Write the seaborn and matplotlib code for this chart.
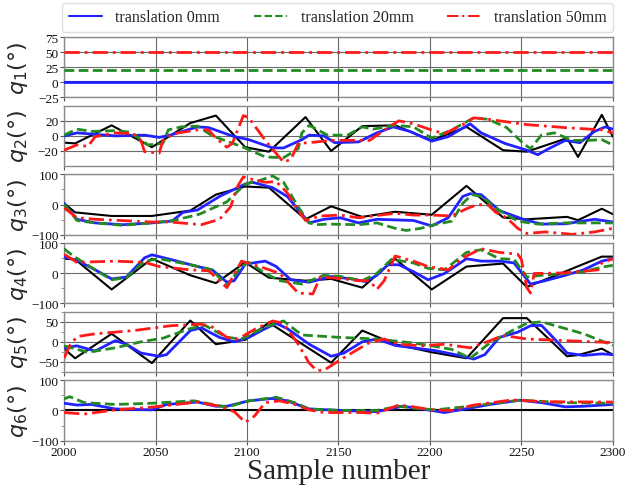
import matplotlib
matplotlib.use("Agg")
import matplotlib.pyplot as plt
import seaborn as sns
from matplotlib.ticker import MultipleLocator
from matplotlib.lines import Line2D

# ---------------- data ----------------
labels = ["translation 0mm", "translation 20mm", "translation 50mm"]
xticks = [2000, 2050, 2100, 2150, 2200, 2250, 2300]

# ground-truth (black) knots shared by all joints
gt_x = [2000, 2006, 2026, 2048, 2069, 2083, 2099, 2112, 2132, 2146, 2163, 2181,
        2201, 2220, 2240, 2253, 2275, 2281, 2294, 2300]
q1_gt = [0] * 20
q2_gt = [-9, -10, 14, -15, 17, 27, -15, -21, 25, -20, 13, 14, -6, 12, -19, -21, -3, -28, 28, -1]
q3_gt = [4, -26, -38, -38, -20, 33, 60, 56, -49, -6, -41, -24, -34, 62, -43, -49, -41, -52, -14, -32]
q4_gt = [48, 46, -54, 48, -7, -33, 36, -15, -25, -19, -48, 48, -54, 22, 32, -46, 8, 23, 55, 55]
q5_gt = [-17, -41, 20, -53, 53, -6, 5, 48, -11, -52, 28, -6, -26, -41, 59, 59, -36, -33, -17, -32]
q6_gt = [0] * 20

# q1
q1_x = [2000, 2300]
q1_blue = [0, 0]
q1_green = [21, 21]
q1_red = [51, 51]

# q2
q2_blue_x = [2000, 2007, 2028, 2044, 2052, 2058, 2073, 2079, 2093, 2101, 2114, 2120, 2130, 2134,
             2142, 2148, 2161, 2171, 2180, 2189, 2201, 2210, 2222, 2228, 2241, 2253, 2259, 2265,
             2274, 2282, 2290, 2296, 2300]
q2_blue = [0, 4, 0, 1, -2, 1, 12, 11, -1, -5, -16, -16, -5, 1, 0, -9, -8, 4, 12, 6, -7, -1, 16, 4,
           -10, -19, -25, -17, -6, -9, 6, 12, 9]
q2_green_x = [2000, 2007, 2015, 2028, 2036, 2046, 2054, 2057, 2064, 2073, 2081, 2098, 2110, 2120,
              2128, 2130, 2134, 2144, 2155, 2163, 2169, 2181, 2191, 2201, 2212, 2224, 2232, 2242,
              2251, 2255, 2261, 2268, 2278, 2286, 2294, 2300]
q2_green = [1, 9, 6, 7, 5, -12, -10, 8, 12, 13, 0, -15, -28, -29, -17, 4, 14, 1, 1, 12, 9, 14, 12,
            -3, 8, 24, 22, 11, -10, -17, 1, 4, -6, -6, -5, -12]
q2_red_x = [2000, 2007, 2013, 2017, 2028, 2038, 2042, 2044, 2052, 2054, 2060, 2073, 2079, 2083,
            2089, 2092, 2098, 2101, 2110, 2120, 2124, 2128, 2134, 2146, 2167, 2177, 2183, 2191,
            2202, 2208, 2218, 2224, 2232, 2253, 2274, 2294, 2300]
q2_red = [-19, -12, -14, -1, 4, 3, -6, -21, -23, -6, 3, 8, 8, -3, -15, -10, 27, 24, -6, -35, -31,
          -10, -9, -6, -6, 11, 20, 16, 7, 3, 15, 24, 22, 15, 11, 8, 4]

# q3
q3_blue_x = [2000, 2003, 2007, 2017, 2032, 2048, 2059, 2065, 2073, 2085, 2099, 2103, 2114, 2122,
             2130, 2134, 2142, 2151, 2161, 2171, 2191, 2201, 2210, 2218, 2222, 2228, 2238, 2251,
             2261, 2274, 2290, 2300]
q3_blue = [4, -20, -49, -61, -67, -61, -55, -26, -18, 27, 68, 74, 56, 27, -32, -61, -49, -44, -61,
           -49, -53, -71, -44, 27, 36, 33, -20, -49, -65, -64, -49, -58]
q3_green_x = [2000, 2003, 2007, 2017, 2032, 2048, 2060, 2074, 2089, 2099, 2107, 2114, 2120, 2128,
              2134, 2138, 2144, 2161, 2171, 2181, 2187, 2195, 2201, 2212, 2218, 2223, 2228, 2238,
              2248, 2259, 2274, 2300]
q3_green = [1, -20, -53, -61, -69, -61, -53, -32, 9, 68, 80, 95, 74, -8, -61, -67, -65, -67, -61,
            -79, -86, -79, -69, -55, 4, 33, 27, -20, -55, -65, -61, -61]
q3_red_x = [2000, 2007, 2017, 2038, 2048, 2058, 2075, 2085, 2091, 2095, 2098, 2101, 2110, 2116,
            2122, 2128, 2132, 2140, 2151, 2161, 2181, 2191, 2201, 2212, 2220, 2226, 2232, 2236,
            2242, 2248, 2253, 2263, 2278, 2290, 2300]
q3_red = [-11, -44, -49, -55, -58, -58, -67, -49, -8, 62, 92, 86, 74, 76, 39, -20, -53, -38, -35,
          -44, -29, -35, -35, -38, -14, 0, -2, -26, -44, -79, -96, -91, -99, -91, -79]

# q4
q4_blue_x = [2000, 2007, 2017, 2026, 2034, 2044, 2048, 2058, 2073, 2081, 2089, 2093, 2099, 2110,
             2116, 2124, 2134, 2146, 2157, 2165, 2171, 2177, 2183, 2191, 2199, 2208, 2220, 2228,
             2238, 2246, 2255, 2263, 2274, 2284, 2294, 2300]
q4_blue = [54, 43, 11, -19, -13, 51, 61, 46, 22, 11, -30, -25, 30, 40, 22, -22, -30, -11, -19, -28,
           -7, 28, 28, 5, -22, -1, 48, 40, 40, 34, -36, -25, -7, 11, 40, 48]
q4_green_x = [2000, 2005, 2017, 2026, 2034, 2044, 2052, 2069, 2081, 2089, 2097, 2101, 2110, 2118,
              2130, 2142, 2151, 2163, 2171, 2179, 2191, 2199, 2208, 2220, 2228, 2238, 2246, 2253,
              2261, 2274, 2284, 2294, 2300]
q4_green = [81, 57, 11, -22, -15, 40, 48, 28, 11, -42, 22, 36, -1, -25, -36, -7, -11, -25, -1, 46,
            34, 16, 11, 69, 78, 48, 46, -13, -7, -1, 5, 20, 26]
q4_red_x = [2000, 2007, 2028, 2044, 2052, 2069, 2079, 2089, 2097, 2107, 2118, 2128, 2136, 2140,
            2148, 2161, 2167, 2171, 2175, 2181, 2191, 2199, 2210, 2218, 2228, 2238, 2248, 2250,
            2253, 2255, 2257, 2274, 2292, 2294, 2300]
q4_red = [63, 36, 40, 36, 22, 11, 8, -48, 40, 22, -1, -66, -69, -13, -16, -25, -25, -54, -25, 57,
          40, 22, 11, 51, 81, 69, 63, 46, -48, -66, -1, 1, 11, 34, 48]

# q5
q5_blue_x = [2000, 2007, 2017, 2028, 2034, 2042, 2052, 2056, 2069, 2075, 2085, 2093, 2101, 2110,
             2116, 2122, 2134, 2146, 2153, 2163, 2171, 2181, 2191, 2203, 2216, 2224, 2230, 2238,
             2248, 2255, 2261, 2270, 2275, 2284, 2294, 2300]
q5_blue = [-15, -10, -23, 3, -6, -28, -36, -32, 28, 35, 11, 0, 11, 33, 46, 33, -6, -36, -28, 0, 7,
           -9, -15, -22, -34, -43, -32, 11, 24, 40, 41, -2, -28, -34, -30, -32]
q5_green_x = [2000, 2013, 2028, 2042, 2054, 2069, 2077, 2089, 2097, 2110, 2120, 2130, 2151, 2171,
              2191, 2201, 2212, 2222, 2233, 2245, 2253, 2261, 2274, 2284, 2300]
q5_green = [-10, -26, -15, 0, 9, 33, 41, 11, 7, 37, 52, 17, 11, 7, -3, -10, -19, -41, -2, 28, 46,
            50, 33, 20, -9]
q5_red_x = [2000, 2003, 2007, 2017, 2038, 2058, 2075, 2081, 2089, 2095, 2105, 2114, 2120, 2128,
            2134, 2138, 2142, 2151, 2159, 2167, 2175, 2183, 2195, 2208, 2222, 2233, 2240, 2253,
            2274, 2300]
q5_red = [-41, -10, 13, 20, 28, 40, 44, 37, 11, 7, 33, 52, 46, -6, -53, -71, -71, -45, -23, -2, 7,
          -6, -10, -6, -15, 3, 16, 7, 3, -2]

# q6
q6_blue_x = [2000, 2007, 2015, 2028, 2048, 2056, 2073, 2083, 2089, 2101, 2114, 2122, 2134, 2151,
             2171, 2185, 2199, 2208, 2222, 2233, 2249, 2261, 2274, 2284, 2300]
q6_blue = [24, 18, 20, 5, 2, 20, 28, 14, 14, 32, 40, 32, 5, 0, -4, 14, 2, -7, 8, 20, 34, 26, 12, 14,
           20]
q6_green_x = [2000, 2003, 2011, 2028, 2048, 2071, 2089, 2101, 2116, 2126, 2134, 2151, 2171, 2183,
              2191, 2203, 2222, 2249, 2274, 2300]
q6_green = [38, 46, 26, 20, 24, 32, 11, 32, 44, 26, 5, 0, 0, 14, 8, 2, 14, 34, 26, 24]
q6_red_x = [2000, 2011, 2028, 2048, 2073, 2085, 2093, 2099, 2104, 2110, 2118, 2126, 2134, 2142,
            2163, 2171, 2183, 2191, 2201, 2212, 2224, 2245, 2263, 2300]
q6_red = [-7, -12, 2, 11, 28, 14, -4, -39, -19, 26, 32, 20, 2, -7, -7, -9, 18, 12, 2, 0, 18, 35, 29,
          28]

panels = [
    dict(gt=q1_gt, blue=(q1_x, q1_blue), green=(q1_x, q1_green), red=(q1_x, q1_red),
         ylim=(-25, 75), ticks=[-25, 0, 25, 50, 75], minor=None),
    dict(gt=q2_gt, blue=(q2_blue_x, q2_blue), green=(q2_green_x, q2_green), red=(q2_red_x, q2_red),
         ylim=(-40, 40), ticks=[-20, 0, 20], minor=None),
    dict(gt=q3_gt, blue=(q3_blue_x, q3_blue), green=(q3_green_x, q3_green), red=(q3_red_x, q3_red),
         ylim=(-100, 100), ticks=[-100, 0, 100], minor=50),
    dict(gt=q4_gt, blue=(q4_blue_x, q4_blue), green=(q4_green_x, q4_green), red=(q4_red_x, q4_red),
         ylim=(-100, 100), ticks=[-100, 0, 100], minor=50),
    dict(gt=q5_gt, blue=(q5_blue_x, q5_blue), green=(q5_green_x, q5_green), red=(q5_red_x, q5_red),
         ylim=(-75, 75), ticks=[-50, 0, 50], minor=25),
    dict(gt=q6_gt, blue=(q6_blue_x, q6_blue), green=(q6_green_x, q6_green), red=(q6_red_x, q6_red),
         ylim=(-100, 100), ticks=[-100, 0, 100], minor=50),
]

# ---------------- style ----------------
sns.set_theme(style="whitegrid")
plt.rcParams["font.family"] = ["Liberation Serif", "DejaVu Serif"]
plt.rcParams["mathtext.fontset"] = "dejavusans"
plt.rcParams["axes.unicode_minus"] = True

fig, axes = plt.subplots(6, 1, figsize=(6.41, 4.89), dpi=100, sharex=True)
fig.subplots_adjust(left=0.1, right=0.956, top=0.922, bottom=0.097, hspace=0.14)

BLUE, GREEN, RED = "#2222ff", "#228b22", "#ff1a1a"
GREEN_LS = (0, (3.5, 1.6))
RED_LS = (0, (5.5, 1.8, 1.0, 1.8))

for i, (ax, p) in enumerate(zip(axes, panels)):
    sns.lineplot(x=gt_x, y=p["gt"], ax=ax, color="black", lw=1.5, estimator=None,
                 sort=False, legend=False, zorder=2)
    sns.lineplot(x=p["blue"][0], y=p["blue"][1], ax=ax, color=BLUE, lw=2.0,
                 estimator=None, sort=False, legend=False, zorder=3)
    sns.lineplot(x=p["green"][0], y=p["green"][1], ax=ax, color=GREEN, lw=2.0,
                 linestyle=GREEN_LS, estimator=None, sort=False, legend=False, zorder=4)
    sns.lineplot(x=p["red"][0], y=p["red"][1], ax=ax, color=RED, lw=2.0,
                 linestyle=RED_LS, estimator=None, sort=False, legend=False, zorder=5)
    ax.set_xlim(2000, 2300)
    ax.set_ylim(*p["ylim"])
    ax.set_yticks(p["ticks"])
    if p["minor"]:
        ax.yaxis.set_minor_locator(MultipleLocator(p["minor"]))
    ax.set_xticks(xticks)
    ax.grid(True, which="major", color="#6a6a6a", lw=0.8)
    ax.grid(False, which="minor")
    for s in ax.spines.values():
        s.set_visible(True)
        s.set_color("#8a8a8a")
        s.set_linewidth(1.0)
    ax.tick_params(axis="both", which="major", labelsize=9.5, length=3, width=0.8,
                   color="#555555", pad=1, left=True, bottom=True, labelcolor="#111111")
    ax.tick_params(axis="y", which="minor", length=2, width=0.6, color="#888888", left=True)
    ax.set_ylabel(r"$q_{%d}(°)$" % (i + 1), fontsize=16)
    ax.yaxis.set_label_coords(-0.062, 0.5)

axes[-1].set_xlabel("Sample number", fontsize=21, labelpad=0)

handles = [Line2D([], [], color=BLUE, lw=1.5),
           Line2D([], [], color=GREEN, lw=1.5, linestyle=GREEN_LS),
           Line2D([], [], color=RED, lw=1.5, linestyle=RED_LS)]
fig.legend(handles, labels, loc="upper center", bbox_to_anchor=(0.527, 0.992),
           ncol=3, fontsize=11.6, frameon=True, edgecolor="#d8d8d8",
           fancybox=True, handlelength=2.05, handletextpad=0.85, columnspacing=2.1,
           borderaxespad=0.0)

fig.savefig("out.png", dpi=100)
